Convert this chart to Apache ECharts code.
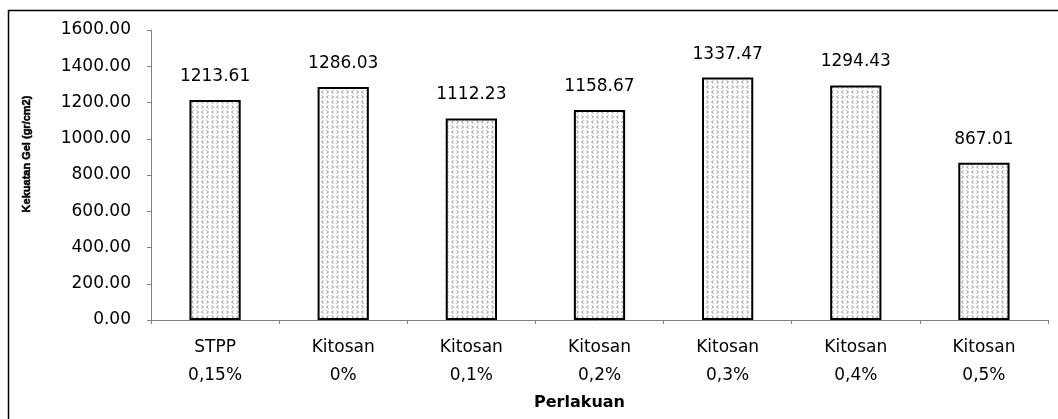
<!DOCTYPE html>
<html>
<head>
<meta charset="utf-8">
<script src="https://cdn.jsdelivr.net/npm/echarts@6/dist/echarts.min.js"></script>
<style>
html,body{margin:0;padding:0;background:#fff;}
#chart{width:1058px;height:419px;}
</style>
</head>
<body>
<div id="chart"></div>
<script>
const categories = ['STPP\n0,15%', 'Kitosan\n0%', 'Kitosan\n0,1%', 'Kitosan\n0,2%', 'Kitosan\n0,3%', 'Kitosan\n0,4%', 'Kitosan\n0,5%'];
const values = [1213.61, 1286.03, 1112.23, 1158.67, 1337.47, 1294.43, 867.01];
const yTitle = 'Kekuatan Gel (gr/cm2)';
const xTitle = 'Perlakuan';

function makePattern() {
  const c = document.createElement('canvas');
  c.width = 10; c.height = 10;
  const g = c.getContext('2d');
  g.fillStyle = '#ffffff';
  g.fillRect(0, 0, 10, 10);
  g.strokeStyle = '#8a8a8a';
  g.lineWidth = 0.9;
  function lt(x, y) { g.beginPath(); g.moveTo(x + 2, y); g.lineTo(x, y + 1.5); g.lineTo(x + 2, y + 3); g.stroke(); }
  function gt(x, y) { g.beginPath(); g.moveTo(x, y); g.lineTo(x + 2, y + 1.5); g.lineTo(x, y + 3); g.stroke(); }
  lt(1.5, 0.5); gt(6.5, 0.5);
  gt(1.5, 5.5); lt(6.5, 5.5);
  return c;
}

const chart = echarts.init(document.getElementById('chart'), null, {renderer: 'canvas'});
const font = 'DejaVu Sans';
chart.setOption({
  animation: false,
  backgroundColor: '#fff',
  grid: {left: 151, right: 10, top: 30, bottom: 99, containLabel: false},
  xAxis: {
    type: 'category',
    data: categories,
    boundaryGap: true,
    axisLine: {lineStyle: {color: '#808080', width: 1}},
    axisTick: {show: true, length: 4, lineStyle: {color: '#808080'}},
    axisLabel: {color: '#000', fontFamily: font, fontSize: 17, lineHeight: 28, margin: 14, interval: 0},
    name: xTitle,
    nameLocation: 'middle',
    nameGap: 75,
    nameTextStyle: {color: '#000', fontFamily: font, fontSize: 16, fontWeight: 'bold', padding: [0, 40, 0, 0]}
  },
  yAxis: {
    type: 'value',
    min: 0, max: 1600, interval: 200,
    splitLine: {show: false},
    axisLine: {show: true, lineStyle: {color: '#808080', width: 1}},
    axisTick: {show: true, length: 4, lineStyle: {color: '#808080'}},
    axisLabel: {color: '#000', fontFamily: font, fontSize: 17, margin: 20, formatter: v => v.toFixed(2)}
  },
  graphic: [
    {type: 'rect', shape: {x: 8.5, y: 10.5, width: 1200, height: 600}, style: {fill: 'none', stroke: '#000', lineWidth: 1.5}, silent: true},
    {type: 'text', x: 27, y: 154, rotation: Math.PI / 2, silent: true,
     style: {text: yTitle, fill: '#000', fontFamily: 'Liberation Sans', fontSize: 11, fontWeight: 'bold', align: 'center', verticalAlign: 'middle',
             stroke: '#000', lineWidth: 0.5}}
  ],
  series: [{
    type: 'bar',
    data: values,
    barWidth: '40%',
    itemStyle: {color: {image: makePattern(), repeat: 'repeat'}, borderColor: '#000', borderWidth: 2},
    label: {show: true, position: 'top', distance: 15, color: '#000', fontFamily: font, fontSize: 17,
            formatter: p => p.value.toFixed(2)}
  }]
});
</script>
</body>
</html>
